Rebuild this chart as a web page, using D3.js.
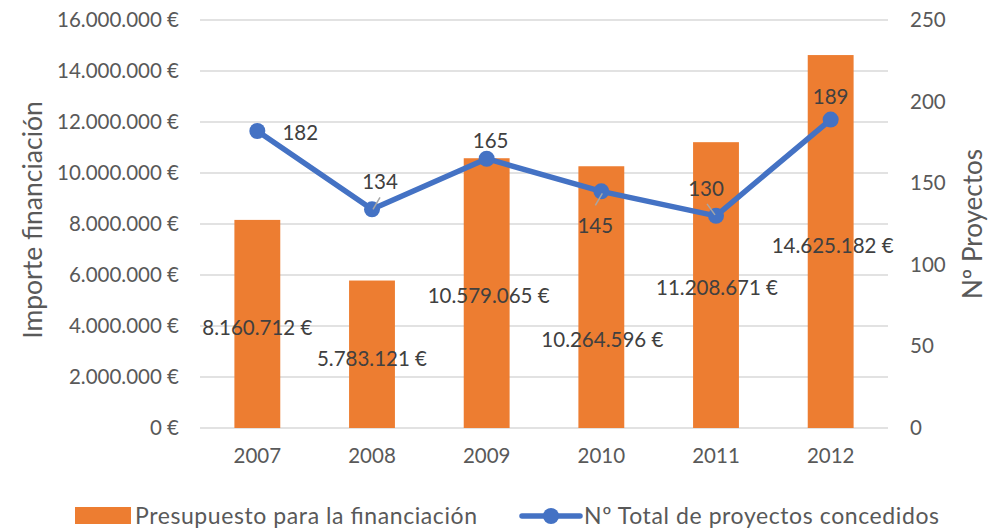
<!DOCTYPE html>
<html>
<head>
<meta charset="utf-8">
<script src="https://cdn.jsdelivr.net/npm/d3@7"></script>
<style>
  html, body { margin: 0; padding: 0; background: #fff; }
  svg { display: block; font-family: Lato, "Open Sans", sans-serif; }
</style>
</head>
<body>
<svg id="chart" width="990" height="532"></svg>
<script>
// ---- data ----
const years = ["2007", "2008", "2009", "2010", "2011", "2012"];
const budget = [8160712, 5783121, 10579065, 10264596, 11208671, 14625182];
const projects = [182, 134, 165, 145, 130, 189];
const leftTicks = [0, 2000000, 4000000, 6000000, 8000000, 10000000, 12000000, 14000000, 16000000];
const rightTicks = [0, 50, 100, 150, 200, 250];
const seriesNames = ["Presupuesto para la financiación", "Nº Total de proyectos concedidos"];
const axisTitles = ["Importe financiación", "Nº Proyectos"];

// ---- layout (label placement offsets, px) ----
const barLabelOffset = [[0, 107], [0, 77], [2, 137], [1, 173], [1, 145], [2, 190]];
const lineLabelOffset = [[43, 1], [8, -28], [4, -19], [-6, 34], [-10, -28], [0, -24]];
const leaderLines = [null, [1, 0, 8, -12], null, [-6, 14, 1, 2], [-9, -12, -1, -1], null];

const orange = "#ED7D31", blue = "#4472C4", textCol = "#595959", gridCol = "#D9D9D9";
const M = { left: 200, right: 888, top: 20, bottom: 428 };

const svg = d3.select("#chart");
const x = d3.scaleBand().domain(years).range([M.left, M.right]).paddingInner(0.6).paddingOuter(0.3);
const yL = d3.scaleLinear().domain([0, 16000000]).range([M.bottom, M.top]);
const yR = d3.scaleLinear().domain([0, 250]).range([M.bottom, M.top]);
const fmtEUR = v => d3.format(",")(v).replace(/,/g, ".") + " €";

// gridlines
svg.append("g").selectAll("line").data(leftTicks).join("line")
  .attr("x1", M.left).attr("x2", M.right)
  .attr("y1", d => yL(d)).attr("y2", d => yL(d))
  .attr("stroke", gridCol).attr("stroke-width", 1.5);

// left axis
const axL = d3.axisLeft(yL).tickValues(leftTicks).tickSize(0).tickPadding(0).tickFormat(fmtEUR);
const gL = svg.append("g").attr("transform", `translate(${M.left - 21},0)`).call(axL);
gL.select(".domain").remove();
gL.selectAll("text").attr("fill", textCol).attr("font-size", 20.5).attr("font-family", "Lato");

// right axis
const axR = d3.axisRight(yR).tickValues(rightTicks).tickSize(0).tickPadding(0);
const gR = svg.append("g").attr("transform", `translate(${M.right + 22},0)`).call(axR);
gR.select(".domain").remove();
gR.selectAll("text").attr("fill", textCol).attr("font-size", 20.5).attr("font-family", "Lato");

// x axis
const axX = d3.axisBottom(x).tickSize(0).tickPadding(0);
const gX = svg.append("g").attr("transform", `translate(0,${M.bottom + 20})`).call(axX);
gX.select(".domain").remove();
gX.selectAll("text").attr("fill", textCol).attr("font-size", 20.5).attr("font-family", "Lato");

// axis titles
svg.append("text").attr("transform", `translate(32,220) rotate(-90)`)
  .attr("text-anchor", "middle").attr("dominant-baseline", "central")
  .attr("fill", textCol).attr("font-size", 26.5).text(axisTitles[0]);
svg.append("text").attr("transform", `translate(972,224) rotate(-90)`)
  .attr("text-anchor", "middle").attr("dominant-baseline", "central")
  .attr("fill", textCol).attr("font-size", 26).text(axisTitles[1]);

// bars
svg.append("g").selectAll("rect").data(budget).join("rect")
  .attr("x", (d, i) => x(years[i]))
  .attr("width", x.bandwidth())
  .attr("y", d => yL(d))
  .attr("height", d => yL(0) - yL(d))
  .attr("fill", orange);

// line
const cx = i => x(years[i]) + x.bandwidth() / 2;
const line = d3.line().x((d, i) => cx(i)).y(d => yR(d));
svg.append("path").datum(projects).attr("d", line)
  .attr("fill", "none").attr("stroke", blue).attr("stroke-width", 5.5)
  .attr("stroke-linejoin", "round").attr("stroke-linecap", "round");
svg.append("g").selectAll("circle").data(projects).join("circle")
  .attr("cx", (d, i) => cx(i)).attr("cy", d => yR(d)).attr("r", 8)
  .attr("fill", blue);

// leader lines
svg.append("g").selectAll("line").data(projects.map((d, i) => ({ d, i, l: leaderLines[i] })).filter(o => o.l))
  .join("line")
  .attr("x1", o => cx(o.i) + o.l[0]).attr("y1", o => yR(o.d) + o.l[1])
  .attr("x2", o => cx(o.i) + o.l[2]).attr("y2", o => yR(o.d) + o.l[3])
  .attr("stroke", "#A6A6A6").attr("stroke-width", 1.5);

// bar labels
svg.append("g").selectAll("text").data(budget).join("text")
  .attr("x", (d, i) => cx(i) + barLabelOffset[i][0])
  .attr("y", (d, i) => yL(d) + barLabelOffset[i][1])
  .attr("text-anchor", "middle").attr("dominant-baseline", "central")
  .attr("fill", "#404040").attr("font-size", 20.5).text(fmtEUR);

// line labels
svg.append("g").selectAll("text").data(projects).join("text")
  .attr("x", (d, i) => cx(i) + lineLabelOffset[i][0])
  .attr("y", (d, i) => yR(d) + lineLabelOffset[i][1])
  .attr("text-anchor", "middle").attr("dominant-baseline", "central")
  .attr("fill", "#404040").attr("font-size", 20.5).text(d => d);

// legend
const lg = svg.append("g");
lg.append("rect").attr("x", 75).attr("y", 507).attr("width", 56).attr("height", 17).attr("fill", orange);
lg.append("text").attr("x", 135).attr("y", 515).attr("dominant-baseline", "central")
  .attr("fill", textCol).attr("font-size", 23).attr("textLength", 342).attr("lengthAdjust", "spacing")
  .text(seriesNames[0]);
lg.append("line").attr("x1", 522).attr("x2", 580).attr("y1", 516).attr("y2", 516)
  .attr("stroke", blue).attr("stroke-width", 5.5).attr("stroke-linecap", "round");
lg.append("circle").attr("cx", 551).attr("cy", 516).attr("r", 8).attr("fill", blue);
lg.append("text").attr("x", 584).attr("y", 515).attr("dominant-baseline", "central")
  .attr("fill", textCol).attr("font-size", 23).attr("textLength", 355).attr("lengthAdjust", "spacing")
  .text(seriesNames[1]);
</script>
</body>
</html>
